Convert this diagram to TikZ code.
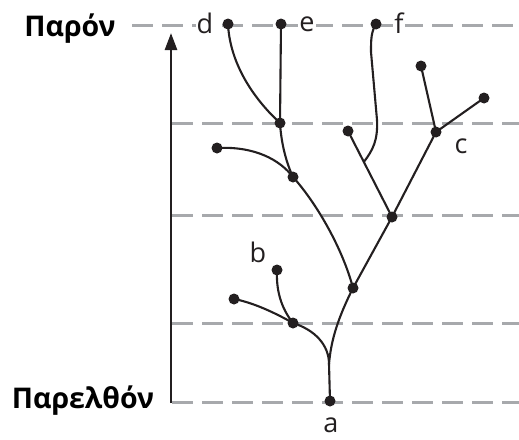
\documentclass[tikz,border=0pt]{standalone}
\usepackage{fontspec}
\setmainfont{Open Sans}
\usetikzlibrary{arrows.meta,calc}
\definecolor{ink}{HTML}{231F20}
\definecolor{grid}{HTML}{A7A9AC}
\tikzset{
  dot/.style={circle,fill=ink,inner sep=0pt,minimum size=11pt},
  br/.style={draw=ink,line width=2.1pt},
  gline/.style={draw=grid,line width=3pt,dash pattern=on 21pt off 9pt},
  lab/.style={font=\fontsize{27}{29}\selectfont,text=ink,inner sep=1pt},
  wlab/.style={lab,fill=white},
  era/.style={font=\fontsize{28.5}{30}\selectfont\bfseries,text=black,inner sep=0pt}
}
\begin{document}
\begin{tikzpicture}[x=1pt,y=-1pt]
\useasboundingbox (0,0) rectangle (519,439);
% era labels
\node[era] (now) at (70,29) {Παρόν};
\node[era] (past) at (83,401) {Παρελθόν};
% dashed time lines
\coordinate (t0s) at (132,25);  \coordinate (t0e) at (519,25);
\coordinate (t1s) at (172,123); \coordinate (t1e) at (519,123);
\coordinate (t2s) at (172,215); \coordinate (t2e) at (519,215);
\coordinate (t3s) at (172,323); \coordinate (t3e) at (519,323);
\coordinate (t4s) at (172,402); \coordinate (t4e) at (519,402);
\foreach \i in {0,...,4} \draw[gline] (t\i s) -- (t\i e);
% time arrow
\coordinate (arS) at (171,403);
\coordinate (arE) at (171,33);
\draw[ink,line width=2.6pt,-{Triangle[length=17pt,width=12pt]}] (arS) -- (arE);
% nodes
\node[dot] (a) at (330,401) {};
\coordinate (j) at (329,364);
\node[dot] (n1) at (293,323) {};
\node[dot] (n1l) at (234,299) {};
\node[dot] (b) at (277,270) {};
\node[dot] (n2) at (353,288) {};
\node[dot] (n3) at (392,217) {};
\node[dot] (n4) at (293,177) {};
\node[dot] (n4l) at (217,148) {};
\node[dot] (n5) at (280,123) {};
\node[dot] (d) at (228,24) {};
\node[dot] (e) at (281,24) {};
\node[dot] (f) at (376,24) {};
\node[dot] (n6) at (348,131) {};
\node[dot] (c) at (436,132) {};
\node[dot] (c1) at (421,66) {};
\node[dot] (c2) at (484,98) {};
\coordinate (fj) at ($(n6)!0.36!(n3)$);
% branches
\draw[br] (a.center) -- (j);
\draw[br] (j) .. controls (329,345) and (315,330) .. (n1.center);
\draw[br] (n1.center) .. controls (270,310) and (250,302) .. (n1l.center);
\draw[br] (n1.center) .. controls (281,308) and (276,290) .. (b.center);
\draw[br] (j) .. controls (331,340) and (338,318) .. (n2.center);
\draw[br] (n2.center) -- (n3.center);
\draw[br] (n2.center) .. controls (343,250) and (318,205) .. (n4.center);
\draw[br] (n4.center) .. controls (280,160) and (255,146) .. (n4l.center);
\draw[br] (n4.center) .. controls (285,160) and (281,140) .. (n5.center);
\draw[br] (n5.center) -- (e.center);
\draw[br] (n5.center) .. controls (255,100) and (230,65) .. (d.center);
\draw[br] (n3.center) -- (n6.center);
\draw[br] (n3.center) -- (c.center);
\draw[br] (c.center) -- (c1.center);
\draw[br] (c.center) -- (c2.center);
\draw[br] (fj) .. controls (373,150) and (378,140) .. (377,120) -- (371,52) .. controls (371,40) and (371,32) .. (f.center);
% labels
\node[wlab] (ld) at (205,23) {d};
\node[wlab] (le) at (307,24) {e};
\node[wlab] (lf) at (399,23) {f};
\node[lab] (lc) at (461,146) {c};
\node[lab] (lb) at (258,252) {b};
\node[lab] (la) at (331,425) {a};
\end{tikzpicture}
\end{document}
